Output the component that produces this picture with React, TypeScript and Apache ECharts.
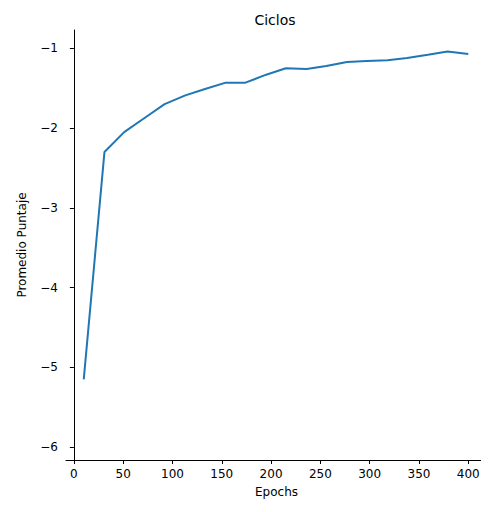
import React, { useEffect, useRef } from "react";
import * as echarts from "echarts";

const epochs = [10, 31, 51, 72, 92, 113, 133, 154, 174, 195, 215, 236, 256, 277, 297, 318, 338, 359, 379, 400];
const meanScore = [-5.15, -2.3, -2.05, -1.87, -1.7, -1.59, -1.51, -1.43, -1.43, -1.33, -1.25, -1.26, -1.22, -1.17, -1.16, -1.15, -1.12, -1.08, -1.04, -1.07];
const lowerBand = [-5.92, -2.33, -2.09, -1.91, -1.75, -1.63, -1.55, -1.46, -1.46, -1.37, -1.29, -1.3, -1.26, -1.21, -1.19, -1.18, -1.15, -1.1, -1.06, -1.11];
const upperBand = [-4.4, -2.27, -2.02, -1.84, -1.66, -1.56, -1.48, -1.4, -1.4, -1.3, -1.22, -1.22, -1.18, -1.14, -1.13, -1.12, -1.09, -1.06, -1.02, -1.04];

export default function App() {
  const ref = useRef<HTMLDivElement>(null);

  useEffect(() => {
    if (!ref.current) return;
    const chart = echarts.init(ref.current, undefined, { renderer: "svg" });
    const font = "DejaVu Sans";
    chart.setOption({
      animation: false,
      textStyle: { fontFamily: font },
      title: {
        text: "Ciclos",
        left: 262,
        top: 0,
        textAlign: "center",
        textStyle: { fontSize: 14, fontWeight: "normal", color: "#000", fontFamily: font },
      },
      grid: { left: 52, right: 2, top: 22, bottom: 44 },
      xAxis: {
        type: "value",
        min: -8,
        max: 419,
        interval: 50,
        name: "Epochs",
        nameLocation: "middle",
        nameGap: 26,
        nameTextStyle: { fontSize: 12, color: "#000" },
        axisLine: { onZero: false, lineStyle: { color: "#000" } },
        axisTick: { show: true, lineStyle: { color: "#000" }, length: 4, customValues: [0, 50, 100, 150, 200, 250, 300, 350, 400] },
        axisLabel: {
          color: "#000",
          fontSize: 12,
          customValues: [0, 50, 100, 150, 200, 250, 300, 350, 400],
        },
        splitLine: { show: false },
      },
      yAxis: {
        type: "value",
        min: -6.16,
        max: -0.77,
        name: "Promedio Puntaje",
        nameLocation: "middle",
        nameGap: 38,
        nameTextStyle: { fontSize: 12, color: "#000" },
        axisLine: { show: true, lineStyle: { color: "#000" } },
        axisTick: { show: true, lineStyle: { color: "#000" }, length: 4, customValues: [-6, -5, -4, -3, -2, -1] },
        axisLabel: { color: "#000", fontSize: 12, customValues: [-6, -5, -4, -3, -2, -1], formatter: (v: number) => String(v).replace("-", "\u2212") },
        splitLine: { show: false },
      },
      series: [
        {
          type: "line",
          data: epochs.map((e, i) => [e, lowerBand[i]]),
          stack: "band",
          stackStrategy: "all",
          symbol: "none",
          lineStyle: { opacity: 0 },
        },
        {
          type: "line",
          data: epochs.map((e, i) => [e, upperBand[i] - lowerBand[i]]),
          stack: "band",
          stackStrategy: "all",
          symbol: "none",
          lineStyle: { opacity: 0 },
          areaStyle: { color: "rgba(31,119,180,0.25)", opacity: 1 },
        },
        {
          type: "line",
          data: epochs.map((e, i) => [e, meanScore[i]]),
          symbol: "none",
          lineStyle: { color: "#1f77b4", width: 2 },
        },
      ],
    });
    return () => chart.dispose();
  }, []);

  return <div ref={ref} style={{ width: 481, height: 496 }} />;
}
